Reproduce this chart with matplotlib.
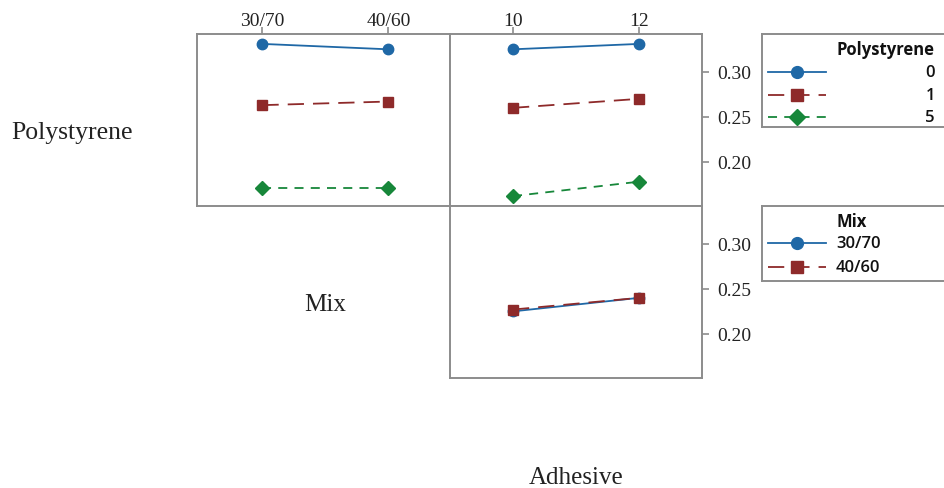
import matplotlib
matplotlib.use("Agg")
import matplotlib.pyplot as plt
import numpy as np

# ---- data ----
mix_levels = ["30/70", "40/60"]
adhesive_levels = [10, 12]
polystyrene_levels = ["0", "1", "5"]
mix_legend_labels = ["30/70", "40/60"]

# Polystyrene x Mix (top-left)
ps_by_mix = {
    "0": [0.331, 0.325],
    "1": [0.263, 0.267],
    "5": [0.171, 0.171],
}
# Polystyrene x Adhesive (top-right)
ps_by_adh = {
    "0": [0.325, 0.331],
    "1": [0.260, 0.270],
    "5": [0.162, 0.178],
}
# Mix x Adhesive (bottom-right)
mix_by_adh = {
    "30/70": [0.225, 0.240],
    "40/60": [0.227, 0.240],
}
y_ticks = [0.20, 0.25, 0.30]

# ---- styles ----
BLUE = "#1f68a6"
RED = "#8e2a2a"
GREEN = "#17873a"
FRAME = "#8c8c8c"
styles = [
    dict(color=BLUE, marker="o", ls="-", ms=7.5),
    dict(color=RED, marker="s", ls=(0, (9, 5)), ms=7),
    dict(color=GREEN, marker="D", ls=(0, (5, 4)), ms=7),
]
serif = "Liberation Serif"
sans = "Open Sans"

W, H = 944, 489
fig = plt.figure(figsize=(W / 100, H / 100), dpi=100)


def px_axes(x0, y0, x1, y1):
    return fig.add_axes([x0 / W, 1 - y1 / H, (x1 - x0) / W, (y1 - y0) / H])


def style_frame(ax):
    for s in ax.spines.values():
        s.set_color(FRAME)
        s.set_linewidth(1.4)
    ax.tick_params(colors=FRAME, labelcolor="#222222", length=5, width=1.2,
                   labelsize=14)
    ax.tick_params(axis="x", pad=-1.5)
    ax.tick_params(axis="y", pad=6)
    for lab in ax.get_xticklabels() + ax.get_yticklabels():
        lab.set_fontfamily(serif)


ylim = (0.151, 0.342)

# top-left: Polystyrene vs Mix
ax1 = px_axes(197, 35, 450, 207)
xm = np.arange(len(mix_levels))
for st, lvl in zip(styles, polystyrene_levels):
    ax1.plot(xm, ps_by_mix[lvl], lw=1.3, **st)
ax1.set_xlim(-0.52, 1.49)
ax1.set_ylim(*ylim)
ax1.set_xticks(xm)
ax1.set_xticklabels(mix_levels)
ax1.xaxis.tick_top()
ax1.set_yticks([])
style_frame(ax1)

# top-right: Polystyrene vs Adhesive
ax2 = px_axes(450, 35, 702, 207)
for st, lvl in zip(styles, polystyrene_levels):
    ax2.plot(adhesive_levels, ps_by_adh[lvl], lw=1.3, **st)
ax2.set_xlim(9.0, 13.0)
ax2.set_ylim(*ylim)
ax2.set_xticks(adhesive_levels)
ax2.xaxis.tick_top()
ax2.yaxis.tick_right()
ax2.set_yticks(y_ticks)
ax2.set_yticklabels([f"{v:.2f}" for v in y_ticks])
style_frame(ax2)

# bottom-right: Mix vs Adhesive
ax3 = px_axes(450, 207, 702, 379)
for st, lvl in zip(styles[:2], mix_legend_labels):
    ax3.plot(adhesive_levels, mix_by_adh[lvl], lw=1.3, **st)
ax3.set_xlim(9.0, 13.0)
ax3.set_ylim(*ylim)
ax3.set_xticks([])
ax3.yaxis.tick_right()
ax3.set_yticks(y_ticks)
ax3.set_yticklabels([f"{v:.2f}" for v in y_ticks])
style_frame(ax3)

# ---- legends (drawn as boxes in pixel coordinates) ----
def legend_box(y0, y1, title, labels, sts, right_align, row_y, title_y):
    lax = px_axes(762, y0, 1000, y1)
    lax.set_xlim(762, 1000)
    lax.set_ylim(y1, y0)
    lax.set_xticks([])
    lax.set_yticks([])
    for s in lax.spines.values():
        s.set_color(FRAME)
        s.set_linewidth(1.4)
    lax.text(836, title_y, title, fontfamily=sans, fontweight="bold",
             fontsize=12, va="center", ha="left", color="#111111")
    for lab, st, ry in zip(labels, sts, row_y):
        lax.plot([768, 826], [ry, ry], color=st["color"], ls=st["ls"], lw=1.3)
        lax.plot([797], [ry], color=st["color"], marker=st["marker"],
                 ms=st["ms"] + 1, ls="none")
        if right_align:
            lax.text(935, ry, lab, fontfamily=sans, fontweight="semibold",
                     fontsize=12, va="center", ha="right", color="#111111")
        else:
            lax.text(836, ry, lab, fontfamily=sans, fontweight="semibold",
                     fontsize=12, va="center", ha="left", color="#111111")


legend_box(35, 128, "Polystyrene", polystyrene_levels, styles, True,
           [73, 96, 118], 50)
legend_box(207, 282, "Mix", mix_legend_labels, styles[:2], False,
           [244, 268], 222)

# ---- factor labels ----
fig.text(72 / W, 1 - 133 / H, "Polystyrene", fontfamily=serif, fontsize=18.5,
         ha="center", va="center", color="#222222")
fig.text(325 / W, 1 - 305 / H, "Mix", fontfamily=serif, fontsize=18,
         ha="center", va="center", color="#222222")
fig.text(576 / W, 1 - 478 / H, "Adhesive", fontfamily=serif, fontsize=18,
         ha="center", va="center", color="#222222")

fig.savefig("out.png", dpi=100)
